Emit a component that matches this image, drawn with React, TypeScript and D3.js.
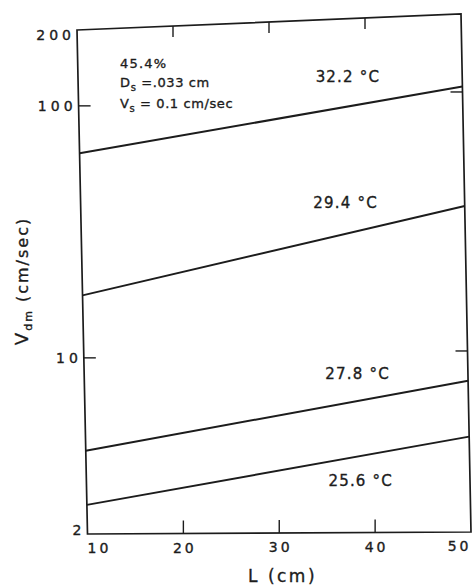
import React from "react";
import * as d3 from "d3";

// Lengths at which each line is evaluated (cm)
const lengthsCm = [10, 50];

// Dispersion velocity V_dm (cm/sec) at L = 10 and L = 50, one array per temperature
const vdm322 = [64.8, 105];
const vdm294 = [17.7, 36.3];
const vdm278 = [4.28, 7.67];
const vdm256 = [2.61, 4.67];

const temperatureLabels = ["32.2 °C", "29.4 °C", "27.8 °C", "25.6 °C"];
// Where each temperature label sits, in data units
const labelLengthCm = [38.1, 37.6, 38.5, 38.6];
const labelVdm = [118.7, 38.4, 8.28, 3.2];

const xTickValues = [10, 20, 30, 40, 50];
const yTickValues = [2, 10, 100, 200];
const xInnerTicks = [20, 30, 40];
const yInnerTicks = [10, 100];

// Corners of the plotting frame on the sheet (slightly skewed)
const frameTL: [number, number] = [77, 30];
const frameTR: [number, number] = [461, 14];
const frameBL: [number, number] = [87.5, 534];
const frameBR: [number, number] = [471, 532];

const INK = "#1c1c1c";
const FONT = "'DejaVu Sans', 'Liberation Sans', sans-serif";

const xScale = d3.scaleLinear().domain([10, 50]).range([0, 1]);
const yScale = d3.scaleLog().domain([2, 200]).range([1, 0]);

function project(L: number, V: number): [number, number] {
  const u = xScale(L);
  const v = yScale(V);
  const x =
    (1 - u) * (1 - v) * frameTL[0] +
    u * (1 - v) * frameTR[0] +
    (1 - u) * v * frameBL[0] +
    u * v * frameBR[0];
  const y =
    (1 - u) * (1 - v) * frameTL[1] +
    u * (1 - v) * frameTR[1] +
    (1 - u) * v * frameBL[1] +
    u * v * frameBR[1];
  return [x, y];
}

const series = [vdm322, vdm294, vdm278, vdm256];

// slight outline so lettering reads as heavy as inked text
const textInk = { fill: INK, stroke: INK, strokeWidth: 0.35 };

export default function App() {
  const line = d3
    .line<[number, number]>()
    .x((d) => d[0])
    .y((d) => d[1]);

  const framePath = line([frameTL, frameTR, frameBR, frameBL]) + "Z";

  return (
    <svg
      width={472}
      height={585}
      style={{ position: "absolute", left: 0, top: 0, background: "#fff" }}
      fontFamily={FONT}
    >
      <rect width={472} height={585} fill="#fff" />

      {/* frame */}
      <path d={framePath} fill="none" stroke={INK} strokeWidth={1.7} />

      {/* inner ticks along bottom and top */}
      {xInnerTicks.map((t) => {
        const [bx, by] = project(t, 2);
        const [tx, ty] = project(t, 200);
        return (
          <g key={"xt" + t} stroke={INK} strokeWidth={1.4}>
            <line x1={bx} y1={by} x2={bx} y2={by - 13} />
            <line x1={tx} y1={ty} x2={tx} y2={ty + 11} />
          </g>
        );
      })}

      {/* inner ticks along left and right */}
      {yInnerTicks.map((t) => {
        const [lx, ly] = project(10, t);
        const [rx, ry] = project(50, t);
        return (
          <g key={"yt" + t} stroke={INK} strokeWidth={1.4}>
            <line x1={lx} y1={ly} x2={lx + 12} y2={ly} />
            <line x1={rx} y1={ry} x2={rx - 12} y2={ry} />
          </g>
        );
      })}

      {/* data lines */}
      {series.map((vals, i) => (
        <path
          key={"s" + i}
          d={line(lengthsCm.map((L, j) => project(L, vals[j]))) || ""}
          fill="none"
          stroke={INK}
          strokeWidth={2}
        />
      ))}

      {/* temperature labels */}
      {temperatureLabels.map((lab, i) => {
        const [x, y] = project(labelLengthCm[i], labelVdm[i]);
        return (
          <text
            key={"tl" + i}
            x={x}
            y={y}
            dy="0.36em"
            textAnchor="middle"
            fontSize={15}
            letterSpacing={1.2}
            {...textInk}
          >
            {lab}
          </text>
        );
      })}

      {/* x tick labels */}
      {xTickValues.map((t, i) => {
        const [x, y] = project(t, 2);
        const anchor =
          i === 0 ? "start" : i === xTickValues.length - 1 ? "end" : "middle";
        return (
          <text
            key={"xl" + t}
            x={x}
            y={y + 19}
            textAnchor={anchor}
            fontSize={14}
            letterSpacing={3}
            dx={anchor === "middle" ? 1.5 : anchor === "end" ? 0.5 : 0}
            {...textInk}
          >
            {t}
          </text>
        );
      })}

      {/* y tick labels */}
      {yTickValues.map((t, i) => {
        const [x, y] = project(10, t);
        const shift = i === 0 ? -4 : i === yTickValues.length - 1 ? 5 : 0;
        return (
          <text
            key={"yl" + t}
            x={x - 2}
            y={y + shift}
            dy="0.36em"
            textAnchor="end"
            fontSize={14}
            letterSpacing={4}
            {...textInk}
          >
            {t}
          </text>
        );
      })}

      {/* x axis title */}
      <text x={248} y={582} fontSize={17} letterSpacing={2.5} {...textInk}>
        {"L  (cm)"}
      </text>

      {/* y axis title */}
      <text
        transform="translate(28,281) rotate(-90)"
        textAnchor="middle"
        fontSize={16}
        letterSpacing={2}
        {...textInk}
      >
        <tspan fontSize={18}>V</tspan>
        <tspan fontSize={11} dy={4}>
          dm
        </tspan>
        <tspan dy={-4}>{"   (cm/sec)"}</tspan>
      </text>

      {/* experimental conditions */}
      <g fontSize={13} letterSpacing={0.6} {...textInk}>
        <text x={120} y={68} letterSpacing={1.2}>
          45.4%
        </text>
        <text x={120} y={87}>
          D
          <tspan fontSize={10} dy={4}>
            s
          </tspan>
          <tspan dy={-4}>{" =.033 cm"}</tspan>
        </text>
        <text x={120} y={108}>
          V
          <tspan fontSize={10} dy={4}>
            s
          </tspan>
          <tspan dy={-4}>{" = 0.1 cm/sec"}</tspan>
        </text>
      </g>
    </svg>
  );
}
